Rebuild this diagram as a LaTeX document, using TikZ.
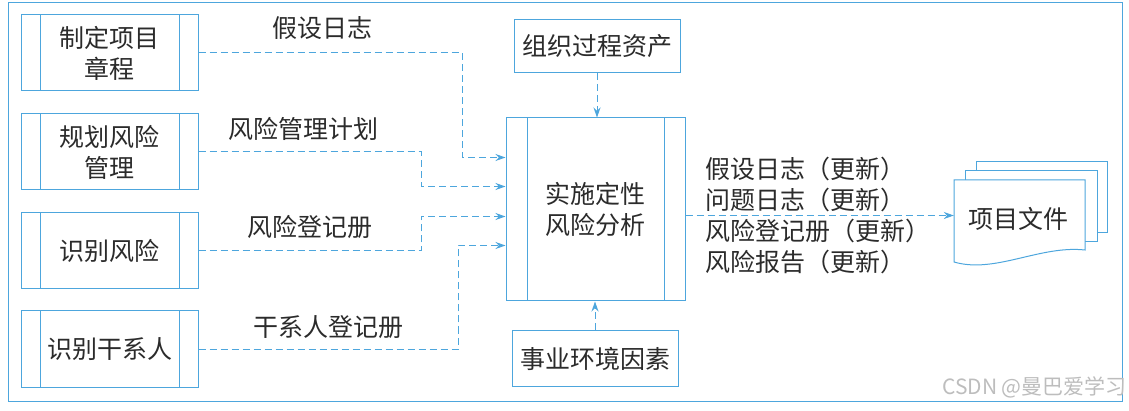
\documentclass[tikz,border=0pt]{standalone}
\usepackage{fontspec}
\newfontfamily\cjk{Noto Sans CJK SC}
\usetikzlibrary{arrows.meta,calc}
\definecolor{lineblue}{HTML}{4DA6DD}
\definecolor{txt}{HTML}{2B2B2B}
\definecolor{wm}{HTML}{BDBDBD}
\begin{document}
\begin{tikzpicture}[x=1pt,y=-1pt,
  every node/.style={font=\cjk\fontsize{25}{31}\selectfont, text=txt, inner sep=0pt},
  plainbox/.style={draw=lineblue, line width=1pt, fill=white, align=center},
  procbox/.style={plainbox, minimum width=177pt, minimum height=76pt,
    path picture={
      \draw[lineblue, line width=1pt]
        ([xshift=19pt]path picture bounding box.north west) -- ([xshift=19pt]path picture bounding box.south west)
        ([xshift=-19pt]path picture bounding box.north east) -- ([xshift=-19pt]path picture bounding box.south east);}},
  mainbox/.style={plainbox, minimum width=179pt, minimum height=183pt,
    path picture={
      \draw[lineblue, line width=1pt]
        ([xshift=21pt]path picture bounding box.north west) -- ([xshift=21pt]path picture bounding box.south west)
        ([xshift=-21pt]path picture bounding box.north east) -- ([xshift=-21pt]path picture bounding box.south east);}},
  flow/.style={draw=lineblue, line width=1pt, dash pattern=on 7pt off 4pt,
    -{Stealth[length=10pt,width=7pt]}},
  lbl/.style={anchor=center}
]
\useasboundingbox (0,0) rectangle (1129,411);
% outer frame
\draw[lineblue, line width=1pt] (8,3) rectangle (1122,401);

% left process boxes
\node[procbox] (b1) at (109.5,53) {制定项目\\章程};
\node[procbox] (b2) at (109.5,152) {规划风险\\管理};
\node[procbox] (b3) at (109.5,251) {识别风险};
\node[procbox] (b4) at (109.5,349) {识别干系人};

% main box
\node[mainbox] (m) at (595.5,209.5) {实施定性\\风险分析};

% top / bottom boxes
\node[plainbox, minimum width=166pt, minimum height=53pt] (org) at (597,46) {组织过程资产};
\node[plainbox, minimum width=166pt, minimum height=56pt] (env) at (595,358.5) {事业环境因素};

% entry points on main box
\coordinate (in1) at ($(m.north west)+(0,40)$);
\coordinate (in2) at ($(m.north west)+(0,69)$);
\coordinate (in3) at ($(m.north west)+(0,99)$);
\coordinate (in4) at ($(m.north west)+(0,128)$);
\coordinate (j1) at (462,0);
\coordinate (j2) at (421,0);
\coordinate (j3) at (421,0);
\coordinate (j4) at (458,0);

\draw[flow] (b1.east) -- (b1.east -| j1) |- (in1);
\draw[flow] (b2.east) -- (b2.east -| j2) |- (in2);
\draw[flow] (b3.east) -- (b3.east -| j3) |- (in3);
\draw[flow] (b4.east) -- (b4.east -| j4) |- (in4);

\node[lbl] (l1) at (322,28) {假设日志};
\node[lbl] (l2) at (303,129) {风险管理计划};
\node[lbl] (l3) at (310,227) {风险登记册};
\node[lbl] (l4) at (328,327) {干系人登记册};

\draw[flow] (org.south) -- (org.south |- m.north);
\draw[flow] (env.north) -- (env.north |- m.south);

% document stack
\fill[white] (976,162) rectangle (1107,233);
\draw[lineblue, line width=1pt] (976,171) -- (976,162) -- (1107,162) -- (1107,233) -- (1097,233);
\fill[white] (965,171) rectangle (1097,242);
\draw[lineblue, line width=1pt] (965,180) -- (965,171) -- (1097,171) -- (1097,242) -- (1085,242);
\draw[lineblue, line width=1pt, fill=white] (954,180) -- (1085,180) -- (1085,250)
  .. controls (1040,245) and (995,274) .. (954,262) -- cycle;
\node (doc) [minimum width=131pt, minimum height=70pt] at (1019.5,215) {};
\node (doctext) at (1018,219) {项目文件};

% output
\draw[flow] ([yshift=-6pt]m.east) -- ([yshift=-6pt]m.east -| doc.west);
\node[anchor=west, align=left] (out) at (705,215.5) {假设日志（更新）\\问题日志（更新）\\风险登记册（更新）\\风险报告（更新）};

% watermark
\node[anchor=east, text=wm, font=\cjk\fontsize{21}{24}\selectfont] (wmk) at (1127,387) {CSDN @曼巴爱学习};
\end{tikzpicture}
\end{document}
